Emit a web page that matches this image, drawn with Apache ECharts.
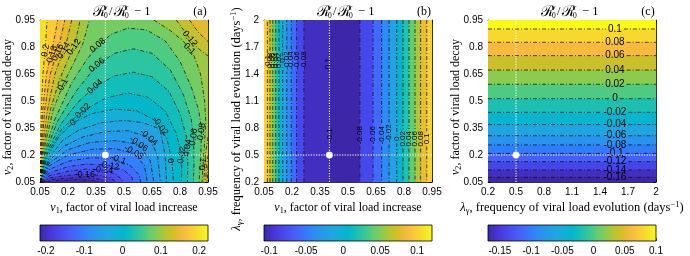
<!DOCTYPE html>
<html><head><meta charset="utf-8">
<script src="https://cdn.jsdelivr.net/npm/echarts/dist/echarts.min.js"></script>
<style>html,body{margin:0;padding:0;background:#fff}#c{width:690px;height:256px}</style>
</head><body><div id="c"></div>
<script>
// ---------------- DATA ----------------
const nuTicks = [0.05, 0.2, 0.35, 0.5, 0.65, 0.8, 0.95];
const lamTicks = [0.2, 0.5, 0.8, 1.1, 1.4, 1.7, 2];
const nuRange = [0.05, 0.95];
const lamRange = [0.2, 2];
const cbTicksA = [-0.2, -0.1, 0, 0.1, 0.2];
const cbTicksB = [-0.1, -0.05, 0, 0.05, 0.1];
const cbTicksC = [-0.15, -0.1, -0.05, 0, 0.05, 0.1];
const rangeA = [-0.2155, 0.223];
const rangeB = [-0.107, 0.12];
const rangeC = [-0.169, 0.1];
const refPointA = [0.4, 0.2];
const refPointB = [0.4, 0.5];
const refPointC = [0.5, 0.2];

// Panel (a): contour pieces (nu1, nu2); higher values lie to the left of the travel direction
const levelsA = [-0.2, -0.18, -0.16, -0.14, -0.12, -0.1, -0.08, -0.06, -0.04, -0.02, 0, 0.02, 0.04, 0.06, 0.08,
  0.1, 0.1, 0.12, 0.12, 0.12, 0.14, 0.14, 0.14, 0.16, 0.16, 0.18, 0.18, 0.2];
const piecesA = [
  [[0.085,0.05],[0.15,0.058],[0.25,0.062],[0.33,0.058],[0.37,0.05]],
  [[0.065,0.05],[0.12,0.065],[0.2,0.072],[0.3,0.074],[0.37,0.066],[0.41,0.05]],
  [[0.058,0.05],[0.1,0.072],[0.2,0.088],[0.29,0.093],[0.38,0.086],[0.43,0.069],[0.46,0.05]],
  [[0.055,0.05],[0.1,0.085],[0.2,0.11],[0.3,0.122],[0.39,0.116],[0.46,0.092],[0.5,0.05]],
  [[0.053,0.05],[0.1,0.1],[0.2,0.135],[0.3,0.15],[0.42,0.142],[0.5,0.115],[0.54,0.08],[0.55,0.05]],
  [[0.052,0.05],[0.1,0.12],[0.2,0.165],[0.32,0.185],[0.43,0.182],[0.53,0.145],[0.58,0.09],[0.59,0.05]],
  [[0.05,0.05],[0.1,0.14],[0.2,0.2],[0.33,0.232],[0.45,0.235],[0.552,0.21],[0.61,0.14],[0.625,0.05]],
  [[0.05,0.05],[0.1,0.155],[0.2,0.23],[0.32,0.27],[0.45,0.28],[0.578,0.26],[0.64,0.17],[0.66,0.05]],
  [[0.05,0.05],[0.1,0.17],[0.18,0.25],[0.28,0.3],[0.4,0.33],[0.52,0.335],[0.632,0.3],[0.68,0.2],[0.695,0.05]],
  [[0.05,0.05],[0.1,0.185],[0.17,0.28],[0.26,0.34],[0.38,0.38],[0.5,0.392],[0.6,0.38],[0.694,0.345],[0.72,0.2],[0.728,0.05]],
  [[0.05,0.05],[0.09,0.19],[0.15,0.3],[0.227,0.38],[0.33,0.43],[0.45,0.455],[0.57,0.445],[0.67,0.39],[0.73,0.29],[0.757,0.168],[0.765,0.05]],
  [[0.05,0.05],[0.085,0.2],[0.17,0.35],[0.28,0.445],[0.4,0.515],[0.52,0.545],[0.63,0.52],[0.72,0.445],[0.78,0.32],[0.81,0.195],[0.808,0.05]],
  [[0.05,0.05],[0.08,0.2],[0.16,0.37],[0.25,0.49],[0.345,0.58],[0.45,0.64],[0.55,0.66],[0.65,0.635],[0.74,0.555],[0.8,0.43],[0.835,0.3],[0.842,0.15],[0.84,0.05]],
  [[0.05,0.05],[0.075,0.2],[0.14,0.38],[0.24,0.55],[0.355,0.7],[0.45,0.765],[0.55,0.79],[0.65,0.765],[0.75,0.67],[0.82,0.53],[0.86,0.4],[0.873,0.3],[0.875,0.15],[0.872,0.05]],
  [[0.05,0.05],[0.07,0.2],[0.13,0.4],[0.22,0.6],[0.3,0.73],[0.355,0.8],[0.43,0.87],[0.52,0.905],[0.62,0.895],[0.72,0.835],[0.8,0.72],[0.86,0.58],[0.9,0.45],[0.915,0.35],[0.912,0.2],[0.902,0.05]],
  [[0.05,0.05],[0.065,0.2],[0.12,0.45],[0.173,0.59],[0.23,0.71],[0.28,0.82],[0.315,0.95]],
  [[0.66,0.95],[0.75,0.89],[0.82,0.83],[0.872,0.76],[0.91,0.65],[0.932,0.5],[0.938,0.38],[0.93,0.24],[0.922,0.12],[0.918,0.05]],
  [[0.05,0.05],[0.061,0.2],[0.105,0.45],[0.155,0.62],[0.2,0.73],[0.237,0.82],[0.265,0.95]],
  [[0.78,0.95],[0.853,0.846],[0.9,0.79],[0.95,0.75]],
  [[0.95,0.3],[0.936,0.2],[0.93,0.1],[0.928,0.05]],
  [[0.05,0.05],[0.058,0.2],[0.09,0.45],[0.13,0.65],[0.19,0.82],[0.22,0.95]],
  [[0.85,0.95],[0.9,0.88],[0.95,0.83]],
  [[0.95,0.2],[0.941,0.12],[0.937,0.05]],
  [[0.05,0.05],[0.056,0.2],[0.075,0.45],[0.105,0.65],[0.155,0.82],[0.183,0.95]],
  [[0.95,0.14],[0.944,0.05]],
  [[0.05,0.05],[0.054,0.2],[0.065,0.45],[0.085,0.65],[0.122,0.82],[0.145,0.95]],
  [[0.95,0.095],[0.948,0.05]],
  [[0.05,0.05],[0.052,0.2],[0.057,0.45],[0.066,0.65],[0.08,0.82],[0.088,0.95]]
];
const labelsA = [
  ['0.2',0.08,0.78,80],['0.18',0.115,0.76,72],['0.16',0.145,0.77,65],['0.14',0.178,0.78,60],['0.12',0.232,0.80,55],
  ['0.1',0.173,0.591,62],['0.08',0.36,0.81,40],['0.06',0.355,0.70,40],['0.04',0.345,0.58,42],['0.02',0.28,0.445,45],
  ['0',0.227,0.38,45],['-0.02',0.694,0.361,-55],['-0.04',0.632,0.297,-40],['-0.06',0.578,0.262,-35],['-0.08',0.552,0.214,-30],
  ['-0.1',0.47,0.175,-20],['-0.12',0.42,0.14,-10],['-0.14',0.388,0.116,-5],['-0.16',0.29,0.09,0],
  ['0',0.757,0.168,90],['0.02',0.81,0.2,82],['0.04',0.84,0.24,82],['0.06',0.873,0.3,82],['0.08',0.915,0.33,82],
  ['0.1',0.924,0.15,85],['0.12',0.853,0.846,-50],['0.1',0.85,0.79,-45]
];

// Panel (b): contour crossings along nu1 (the field does not vary with lambda)
const levelsB = [0.1, 0.08, 0.06, 0.04, 0.02, 0, -0.02, -0.04, -0.06, -0.08, -0.1,
  -0.08, -0.06, -0.04, -0.02, 0, 0.02, 0.04, 0.06, 0.08, 0.1];
const crossB = [0.068, 0.082, 0.097, 0.113, 0.13, 0.15, 0.172, 0.196, 0.225, 0.264, 0.398,
  0.564, 0.634, 0.68, 0.72, 0.761, 0.795, 0.827, 0.859, 0.889, 0.922];
const risingB = [0,0,0,0,0,0,0,0,0,0,0, 1,1,1,1,1,1,1,1,1,1];
const labelsB = [
  ['0.1',0.068,1.55,90],['0.08',0.082,1.55,90],['0.06',0.097,1.55,90],['0.04',0.113,1.55,90],['0.02',0.13,1.55,90],
  ['0',0.15,1.55,90],['-0.02',0.172,1.55,90],['-0.04',0.196,1.55,90],['-0.06',0.225,1.55,90],['-0.08',0.264,1.55,90],
  ['-0.1',0.39,1.5,90],['-0.1',0.4,0.72,90],['-0.08',0.564,0.72,90],['-0.06',0.634,0.72,90],['-0.04',0.68,0.72,90],
  ['-0.02',0.72,0.74,90],['0',0.761,0.68,90],['0.02',0.795,0.68,90],['0.04',0.827,0.68,90],['0.06',0.859,0.68,90],
  ['0.08',0.889,0.68,90],['0.1',0.922,0.68,90]
];

// Panel (c): contour crossings along nu2 (the field does not vary with lambda)
const levelsC = [0.1, 0.08, 0.06, 0.04, 0.02, 0, -0.02, -0.04, -0.06, -0.08, -0.1, -0.12, -0.14, -0.16];
const crossC = [0.9, 0.826, 0.752, 0.672, 0.593, 0.513, 0.437, 0.369, 0.307, 0.256, 0.209, 0.163, 0.117, 0.076];
const labelLamC = 1.56;

// ---------------- STYLE / HELPERS ----------------
const SANS = '"Liberation Sans", Arial, sans-serif';
const SERIF = '"Liberation Serif", "Times New Roman", serif';
const parula = [[0,'#3e26a8'],[0.05,'#4433cd'],[0.1,'#4742e6'],[0.15,'#4853f5'],[0.2,'#4465fd'],[0.25,'#337afd'],
  [0.3,'#2d8cf3'],[0.35,'#2699e9'],[0.4,'#20a5e3'],[0.45,'#12b0d6'],[0.5,'#00b8c9'],[0.55,'#1abfb5'],
  [0.6,'#36c898'],[0.65,'#61cd72'],[0.7,'#8bcb51'],[0.75,'#b8c430'],[0.8,'#dbbd29'],[0.85,'#f7ba3d'],
  [0.9,'#fccc33'],[0.95,'#f5e326'],[1,'#f9fb15']];
function hex(h){return [1,3,5].map(i=>parseInt(h.substr(i,2),16));}
function colorAt(v, r){
  let t=(v-r[0])/(r[1]-r[0]); t=Math.max(0,Math.min(1,t));
  for(let i=1;i<parula.length;i++){
    if(t<=parula[i][0]){
      const a=parula[i-1], b=parula[i]; const u=(t-a[0])/(b[0]-a[0]);
      const ca=hex(a[1]), cb=hex(b[1]);
      return 'rgb('+ca.map((c,k)=>Math.round(c+(cb[k]-c)*u)).join(',')+')';
    }
  }
  return parula[parula.length-1][1];
}
const CW={'.':0.278,'-':0.333};
function textW(s,sz){let w=0; for(const ch of s) w+=(CW[ch]||0.556); return w*sz;}
function sPos(p,xr,yr){
  const e=1e-9,w=xr[1]-xr[0],h=yr[1]-yr[0];
  if(Math.abs(p[1]-yr[0])<e) return (p[0]-xr[0])/w;
  if(Math.abs(p[0]-xr[1])<e) return 1+(p[1]-yr[0])/h;
  if(Math.abs(p[1]-yr[1])<e) return 2+(xr[1]-p[0])/w;
  return 3+(yr[1]-p[1])/h;
}
function closePiece(pts,xr,yr){
  const sE=sPos(pts[pts.length-1],xr,yr); let sS=sPos(pts[0],xr,yr); if(sS<=sE) sS+=4;
  const cs=[[1,[xr[1],yr[0]]],[2,[xr[1],yr[1]]],[3,[xr[0],yr[1]]],[4,[xr[0],yr[0]]],
            [5,[xr[1],yr[0]]],[6,[xr[1],yr[1]]],[7,[xr[0],yr[1]]]];
  const out=pts.slice(); cs.forEach(c=>{ if(c[0]>sE && c[0]<sS) out.push(c[1]); }); return out;
}
function makeRender(levels,pieces,range,xr,yr,labels,refPt,labelSize){
  return function(params,api){
    const P=p=>api.coord(p); const kids=[];
    const corners=[[xr[0],yr[0]],[xr[1],yr[0]],[xr[1],yr[1]],[xr[0],yr[1]]];
    kids.push({type:'polygon',shape:{points:corners.map(P)},style:{fill:colorAt(range[0],range)}});
    const order=levels.map((l,i)=>i).sort((a,b)=>levels[a]-levels[b]);
    order.forEach(i=>{ const c=colorAt(levels[i],range);
      kids.push({type:'polygon',shape:{points:closePiece(pieces[i],xr,yr).map(P)},style:{fill:c,stroke:c,lineWidth:0.4}}); });
    const lineStyle={stroke:'#111',lineWidth:0.75,lineDash:[4,2,1,2],fill:null};
    const labPx=labels.map(l=>({q:P([l[1],l[2]]),w:textW(l[0],labelSize)}));
    pieces.forEach(pts=>{
      const px=pts.map(P);
      if(px.length===2){ // straight line: leave gaps where labels sit on it
        const A=px[0],B=px[1],L=Math.hypot(B[0]-A[0],B[1]-A[1]),ux=(B[0]-A[0])/L,uy=(B[1]-A[1])/L;
        const gaps=[];
        labPx.forEach(o=>{const dx=o.q[0]-A[0],dy=o.q[1]-A[1],t=dx*ux+dy*uy,d=Math.abs(dx*uy-dy*ux);
          if(d<1.5&&t>0&&t<L) gaps.push([t-o.w/2-2,t+o.w/2+2]);});
        gaps.sort((a,b)=>a[0]-b[0]);
        let s=0; const segs=[];
        gaps.forEach(g=>{ if(g[0]>s) segs.push([s,g[0]]); s=Math.max(s,g[1]); });
        if(s<L) segs.push([s,L]);
        segs.forEach(g=>kids.push({type:'polyline',shape:{points:[[A[0]+ux*g[0],A[1]+uy*g[0]],[A[0]+ux*g[1],A[1]+uy*g[1]]]},style:lineStyle}));
      } else kids.push({type:'polyline',shape:{points:px},style:lineStyle});
    });
    labels.forEach((l,k)=>{ const q=labPx[k].q;
      kids.push({type:'text',x:q[0],y:q[1],rotation:l[3]*Math.PI/180,
        style:{text:l[0],fill:'#000',font:labelSize+'px '+SANS,align:'center',verticalAlign:'middle'}}); });
    const a=P([refPt[0],yr[0]]),b=P([refPt[0],yr[1]]),c=P([xr[0],refPt[1]]),d=P([xr[1],refPt[1]]);
    const ws={stroke:'#fff',lineWidth:1,lineDash:[1.3,1.3]};
    kids.push({type:'line',shape:{x1:a[0],y1:a[1],x2:b[0],y2:b[1]},style:ws});
    kids.push({type:'line',shape:{x1:c[0],y1:c[1],x2:d[0],y2:d[1]},style:ws});
    const m=P(refPt);
    kids.push({type:'circle',shape:{cx:m[0],cy:m[1],r:3.3},style:{fill:'#fff',stroke:'#e8e8e8',lineWidth:0.5}});
    return {type:'group',children:kids};
  };
}
const piecesB = crossB.map((x,i)=> risingB[i] ? [[x,lamRange[1]],[x,lamRange[0]]] : [[x,lamRange[0]],[x,lamRange[1]]]);
const piecesC = crossC.map(y=>[[lamRange[0],y],[lamRange[1],y]]);
const labelsC = crossC.map((y,i)=>[String(levelsC[i]), labelLamC, y, 0]);

// ---------------- LAYOUT ----------------
const PL=[40,264,488], PT=20, PW=168, PH=162, CBT=225, CBH=16;
const grids=[]; PL.forEach(l=>grids.push({left:l,top:PT,width:PW,height:PH}));
PL.forEach(l=>grids.push({left:l,top:CBT,width:PW,height:CBH}));
const fmt=v=>String(parseFloat(Number(v).toFixed(3)));
const axLine={show:true,onZero:false,lineStyle:{color:'#000',width:0.8}};
const xAxes=[], yAxes=[];
const panelX=[[nuRange,nuTicks],[nuRange,nuTicks],[lamRange,lamTicks]];
const panelY=[[nuRange,nuTicks],[lamRange,lamTicks],[nuRange,nuTicks]];
for(let g=0;g<3;g++){
  const [xr,xt]=panelX[g],[yr,yt]=panelY[g];
  ['bottom','top'].forEach((pos,k)=>xAxes.push({type:'value',gridIndex:g,position:pos,min:xr[0],max:xr[1],
    axisLine:axLine,splitLine:{show:false},
    axisTick:{show:true,inside:true,length:3,customValues:xt,lineStyle:{color:'#000',width:0.8}},
    axisLabel:{show:k===0,customValues:xt,margin:5,color:'#000',fontSize:10,fontFamily:SANS,formatter:fmt}}));
  ['left','right'].forEach((pos,k)=>yAxes.push({type:'value',gridIndex:g,position:pos,min:yr[0],max:yr[1],
    axisLine:axLine,splitLine:{show:false},
    axisTick:{show:true,inside:true,length:3,customValues:yt,lineStyle:{color:'#000',width:0.8}},
    axisLabel:{show:k===0,customValues:yt,margin:5,color:'#000',fontSize:10,fontFamily:SANS,formatter:fmt}}));
}
const cbRanges=[rangeA,rangeB,rangeC], cbTicks=[cbTicksA,cbTicksB,cbTicksC];
for(let j=0;j<3;j++){
  xAxes.push({type:'value',gridIndex:3+j,min:cbRanges[j][0],max:cbRanges[j][1],axisLine:{show:false},splitLine:{show:false},
    axisTick:{show:true,inside:true,length:3,customValues:cbTicks[j],lineStyle:{color:'#333',width:0.8}},
    axisLabel:{show:true,customValues:cbTicks[j],margin:5,color:'#000',fontSize:10,fontFamily:SANS,formatter:fmt}});
  yAxes.push({type:'value',gridIndex:3+j,min:0,max:1,show:false});
}
const series=[
  {type:'custom',xAxisIndex:0,yAxisIndex:0,data:[[0.5,0.5]],silent:true,clip:true,
   renderItem:makeRender(levelsA,piecesA,rangeA,nuRange,nuRange,labelsA,refPointA,9)},
  {type:'custom',xAxisIndex:2,yAxisIndex:2,data:[[0.5,1]],silent:true,clip:true,
   renderItem:makeRender(levelsB,piecesB,rangeB,nuRange,lamRange,labelsB,refPointB,8)},
  {type:'custom',xAxisIndex:4,yAxisIndex:4,data:[[1,0.5]],silent:true,clip:true,
   renderItem:makeRender(levelsC,piecesC,rangeC,lamRange,nuRange,labelsC,refPointC,10)}
];
for(let j=0;j<3;j++){
  const r=cbRanges[j];
  series.push({type:'custom',xAxisIndex:6+j,yAxisIndex:6+j,data:[[r[0],0]],silent:true,
    renderItem:(params,api)=>{ const p0=api.coord([r[0],1]),p1=api.coord([r[1],0]);
      return {type:'rect',shape:{x:p0[0],y:p0[1],width:p1[0]-p0[0],height:p1[1]-p0[1]},
        style:{fill:new echarts.graphic.LinearGradient(0,0,1,0,parula.map(s=>({offset:s[0],color:s[1]}))),stroke:'#000',lineWidth:0.8}}; }});
}
// text graphics (titles, panel letters, axis names)
function rich(sz){return {i:{fontFamily:SERIF,fontStyle:'italic',fontSize:sz,fill:'#000'},
  s:{fontFamily:SERIF,fontSize:sz*0.68,fill:'#000',padding:[6,0,0,0]},
  p:{fontFamily:SERIF,fontSize:sz*0.68,fill:'#000',padding:[0,0,6,0]},
  t:{fontFamily:SERIF,fontSize:sz,fill:'#000'}};}
const nuX='{i|ν}{s|1}{t|, factor of viral load increase}';
const nuY='{i|ν}{s|2}{t|, factor of viral load decay}';
const lamName='{i|λ}{s|γ}{t|, frequency of viral load evolution (days}{p|−1}{t|)}';
function nameText(txt,x,y,rot,sz){return {type:'text',x:x,y:y,rotation:rot?Math.PI/2:0,
  style:{text:txt,rich:rich(sz),align:'center',verticalAlign:'middle',fill:'#000'}};}
function titleGroup(cx){
  const f=(t,x,y,sz,it)=>({type:'text',x:x,y:y,style:{text:t,fill:'#000',font:(it?'italic ':'')+sz+'px '+SERIF,align:'left',verticalAlign:'middle'}});
  return {type:'group',x:cx-31,y:12,children:[
    f('ℛ',0,0,15,false),f('v',11,-4,7.5,true),f('0',11,4,7.5,false),f('/',16,0,12.5,false),
    f('ℛ',21,0,15,false),f('c',32,-4,7.5,true),f('0',32,4,7.5,false),f('− 1',41,0,12.5,false)]};
}
const graphics=[];
PL.forEach((l,g)=>{
  graphics.push(titleGroup(l+PW/2));
  graphics.push({type:'text',x:l+PW-8,y:12,style:{text:['(a)','(b)','(c)'][g],font:'12px '+SERIF,fill:'#000',align:'center',verticalAlign:'middle'}});
});
graphics.push(nameText(nuX,PL[0]+PW/2,208,false,12));
graphics.push(nameText(nuX,PL[1]+PW/2,208,false,12));
graphics.push(nameText(lamName,PL[2]+PW/2,208,false,12.5));
graphics.push(nameText(nuY,8,107,true,12));
graphics.push(nameText(lamName,237,119,true,12.5));
graphics.push(nameText(nuY,456,107,true,12));

const chart=echarts.init(document.getElementById('c'),null,{renderer:'canvas',width:690,height:256});
chart.setOption({animation:false,grid:grids,xAxis:xAxes,yAxis:yAxes,series:series,graphic:graphics});
</script></body></html>
